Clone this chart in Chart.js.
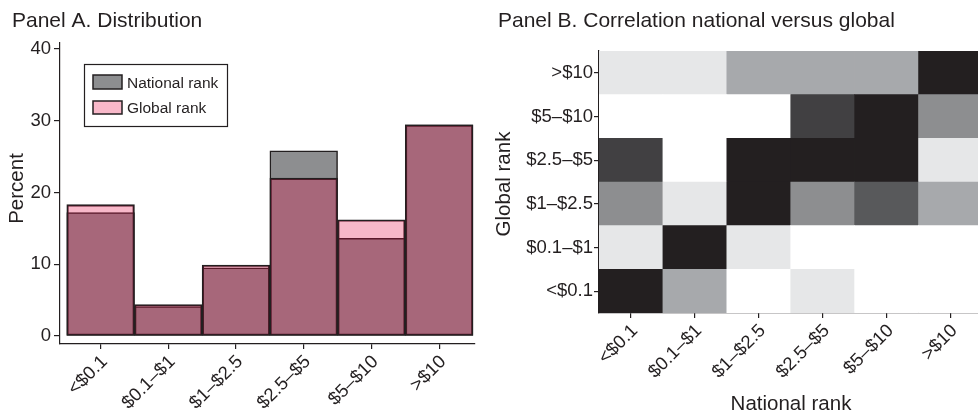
<!DOCTYPE html>
<html>
<head>
<meta charset="utf-8">
<script src="https://cdn.jsdelivr.net/npm/chart.js@4.4.1/dist/chart.umd.min.js"></script>
<style>
  html, body { margin: 0; padding: 0; background: #ffffff; }
  #wrap { position: relative; width: 978px; height: 414px; overflow: hidden; background: #ffffff; }
  #panelA { position: absolute; left: 0; top: 0; }
  #panelB { position: absolute; left: 490px; top: 0; }
</style>
</head>
<body>
<div id="wrap">
  <canvas id="panelA" width="490" height="414"></canvas>
  <canvas id="panelB" width="488" height="414"></canvas>
</div>
<script>
// Income bins (daily $), shared by both panels
const incomeBins = ['<$0.1', '$0.1–$1', '$1–$2.5', '$2.5–$5', '$5–$10', '>$10'];

// Panel A: share of people in each bin (percent)
const nationalRankPct = [17.2, 4.1, 9.5, 25.8, 13.6, 29.4];
const globalRankPct   = [18.3, 4.4, 9.9, 22.0, 16.2, 29.4];
const percentTicks    = [0, 10, 20, 30, 40];

// Panel B: shade level (0 = none ... 6 = highest) of each national-rank bin,
// one row per global-rank bin, from <$0.1 up to >$10
const shadeGlobalBelow01 = [6, 2, 0, 1, 0, 0];
const shadeGlobal01to1   = [1, 6, 1, 0, 0, 0];
const shadeGlobal1to25   = [3, 1, 6, 3, 4, 2];
const shadeGlobal25to5   = [5, 0, 6, 6, 6, 1];
const shadeGlobal5to10   = [0, 0, 0, 5, 6, 3];
const shadeGlobalAbove10 = [1, 1, 2, 2, 2, 6];
const shadeRows = [shadeGlobalBelow01, shadeGlobal01to1, shadeGlobal1to25,
                   shadeGlobal25to5, shadeGlobal5to10, shadeGlobalAbove10];

const ink = '#231f20';
const FONT = '"Liberation Sans", Arial, Helvetica, sans-serif';
const grayRamp = ['#ffffff', '#e6e7e8', '#a7a9ac', '#8d8e90', '#58595b', '#414042', '#231f20'];
const nationalFill = '#8d8e90';
const globalFill = 'rgba(232, 10, 70, 0.29)';
const TICK_SIZE = 18.5;

Chart.defaults.font.family = FONT;
Chart.defaults.color = ink;

// ---------- Panel A ----------
const panelAText = {
  id: 'panelAText',
  afterDraw(chart) {
    const c = chart.ctx;
    c.save();
    c.fillStyle = ink;
    c.font = '21px ' + FONT;
    c.textAlign = 'left';
    c.textBaseline = 'alphabetic';
    c.fillText('Panel A. Distribution', 12, 27);
    c.save();
    c.font = '20.5px ' + FONT;
    c.translate(23, 188.5);
    c.rotate(-Math.PI / 2);
    c.textAlign = 'center';
    c.fillText('Percent', 0, 0);
    c.restore();

    // legend box
    c.lineWidth = 1.2;
    c.strokeStyle = ink;
    c.fillStyle = '#ffffff';
    c.fillRect(84.5, 64.5, 143, 62);
    c.strokeRect(84.5, 64.5, 143, 62);
    const items = chart.data.datasets;
    const rows = [{ y: 75, h: 14, base: 88 }, { y: 101, h: 13, base: 113 }];
    items.forEach((ds, i) => {
      const r = rows[i];
      c.fillStyle = '#ffffff';
      c.fillRect(93, r.y, 29, r.h);
      c.fillStyle = ds.backgroundColor;
      c.fillRect(93, r.y, 29, r.h);
      c.lineWidth = 1.5;
      c.strokeStyle = ink;
      c.strokeRect(93, r.y, 29, r.h);
      c.fillStyle = ink;
      c.font = '15.5px ' + FONT;
      c.textAlign = 'left';
      c.fillText(ds.label, 127, r.base);
    });
    c.restore();
  }
};

new Chart(document.getElementById('panelA'), {
  type: 'bar',
  data: {
    datasets: [
      {
        label: 'National rank',
        data: nationalRankPct.map((v, i) => ({ x: i, y: v })),
        backgroundColor: nationalFill,
        borderColor: ink,
        borderWidth: 1.5,
        order: 1
      },
      {
        label: 'Global rank',
        data: globalRankPct.map((v, i) => ({ x: i, y: v })),
        backgroundColor: globalFill,
        borderColor: ink,
        borderWidth: 1.5,
        order: 0
      }
    ]
  },
  options: {
    responsive: false,
    animation: false,
    devicePixelRatio: 1,
    layout: { padding: { top: 43, right: 15, left: 0, bottom: 0 } },
    datasets: { bar: { grouped: false, categoryPercentage: 1, barPercentage: 1, borderSkipped: false } },
    plugins: { legend: { display: false }, tooltip: { enabled: false } },
    scales: {
      x: {
        type: 'linear', offset: false, min: -0.6, max: 5.53,
        afterBuildTicks: s => { s.ticks = incomeBins.map((_, i) => ({ value: i })); },
        afterFit: s => { s.height = 70; },
        grid: { offset: false, drawOnChartArea: false, drawTicks: true, tickLength: 5, color: ink, lineWidth: 1.2 },
        border: { display: true, color: ink, width: 1.2 },
        ticks: {
          autoSkip: false, minRotation: 45, maxRotation: 45, padding: 2, labelOffset: 4,
          font: { size: TICK_SIZE }, color: ink,
          callback: v => incomeBins[Math.round(v)]
        }
      },
      y: {
        min: -1.1, max: 40.8,
        afterBuildTicks: s => { s.ticks = percentTicks.map(v => ({ value: v })); },
        afterFit: s => { s.width = 60; },
        grid: { drawOnChartArea: false, tickLength: 6, color: ink, lineWidth: 1.2 },
        border: { display: true, color: ink, width: 1.2 },
        ticks: { padding: 3, font: { size: TICK_SIZE }, color: ink }
      }
    }
  },
  plugins: [panelAText]
});

// ---------- Panel B ----------
const panelBText = {
  id: 'panelBText',
  afterDraw(chart) {
    const c = chart.ctx;
    c.save();
    c.fillStyle = ink;
    c.font = '21px ' + FONT;
    c.textAlign = 'left';
    c.textBaseline = 'alphabetic';
    c.fillText('Panel B. Correlation national versus global', 8, 27);
    c.font = '20.5px ' + FONT;
    c.textAlign = 'center';
    c.fillText('National rank', 301, 410);
    c.translate(20, 184);
    c.rotate(-Math.PI / 2);
    c.fillText('Global rank', 0, 0);
    c.restore();
  }
};

new Chart(document.getElementById('panelB'), {
  type: 'bar',
  data: {
    datasets: shadeRows.map((row, r) => ({
      label: incomeBins[r],
      data: row.map((lvl, col) => ({ x: col, y: [r, r + 1] })),
      backgroundColor: row.map(lvl => grayRamp[lvl]),
      borderWidth: 0
    }))
  },
  options: {
    responsive: false,
    animation: false,
    devicePixelRatio: 1,
    layout: { padding: { top: 51, right: 0, left: 0, bottom: 0 } },
    datasets: { bar: { grouped: false, categoryPercentage: 1, barPercentage: 1 } },
    plugins: { legend: { display: false }, tooltip: { enabled: false } },
    scales: {
      x: {
        type: 'linear', offset: false, min: -0.5, max: 5.43,
        afterBuildTicks: s => { s.ticks = incomeBins.map((_, i) => ({ value: i })); },
        afterFit: s => { s.height = 101; },
        grid: { offset: false, drawOnChartArea: false, tickLength: 5, color: ink, lineWidth: 1.2 },
        border: { display: true, color: ink, width: 1.2 },
        ticks: {
          autoSkip: false, minRotation: 45, maxRotation: 45, padding: 2, labelOffset: 4,
          font: { size: TICK_SIZE }, color: ink,
          callback: v => incomeBins[Math.round(v)]
        }
      },
      y: {
        min: 0, max: 6,
        afterBuildTicks: s => { s.ticks = incomeBins.map((_, i) => ({ value: i + 0.5 })); },
        afterFit: s => { s.width = 109; },
        grid: { drawOnChartArea: false, tickLength: 5, color: ink, lineWidth: 1.2 },
        border: { display: true, color: ink, width: 1.2 },
        ticks: { padding: 1, font: { size: TICK_SIZE }, color: ink, callback: v => incomeBins[Math.round(v - 0.5)] }
      }
    }
  },
  plugins: [panelBText]
});
</script>
</body>
</html>
